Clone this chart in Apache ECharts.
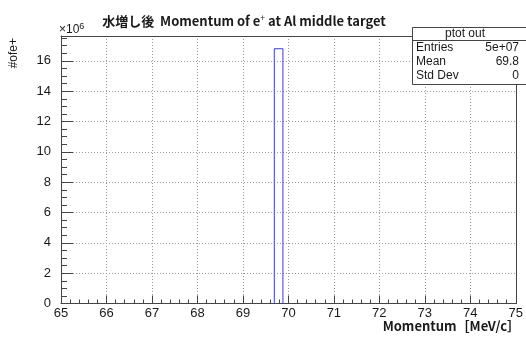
<!DOCTYPE html>
<html>
<head>
<meta charset="utf-8">
<script src="https://cdn.jsdelivr.net/npm/echarts@6/dist/echarts.min.js"></script>
<style>
  html, body { margin: 0; padding: 0; background: #fff; }
  #chart { width: 526px; height: 338px; }
</style>
</head>
<body>
<div id="chart"></div>
<script>
// Histogram "ptot out": one filled bin of positron momentum
const binLow = [69.69];          // MeV/c
const binHigh = [69.88];         // MeV/c
const binCounts = [16800000];    // entries per bin
const yScale = 1e6;              // axis shows counts in units of 10^6

const xRange = [65, 75];
const yRange = [0, 17.64];

const statsTitle = 'ptot out';
const statsNames = ['Entries', 'Mean', 'Std Dev'];
const statsValues = ['5e+07', '69.8', '0'];

// Outline of each bin as a step path
const outline = [];
for (let i = 0; i < binLow.length; i++) {
  const h = binCounts[i] / yScale;
  outline.push([binLow[i], 0], [binLow[i], h], [binHigh[i], h], [binHigh[i], 0]);
}

const FRAME = '#444';
const GRID = '#9a9a9a';
const TXT = '#1a1a1a';
const NUMFONT = 'Liberation Sans, Arial, sans-serif';
const JPFONT = 'Noto Sans CJK JP, sans-serif';

const chart = echarts.init(document.getElementById('chart'), null, { renderer: 'canvas' });

const statsGraphics = [];
statsGraphics.push({
  type: 'rect', z: 100,
  shape: { x: 412.5, y: 27.5, width: 120, height: 57 },
  style: { fill: '#fff', stroke: FRAME, lineWidth: 1 }
});
statsGraphics.push({
  type: 'line', z: 101,
  shape: { x1: 412.5, y1: 40.5, x2: 526, y2: 40.5 },
  style: { stroke: FRAME, lineWidth: 1 }
});
statsGraphics.push({
  type: 'text', z: 101, x: 465, y: 34,
  style: { text: statsTitle, font: '12px ' + NUMFONT, fill: TXT, align: 'center', verticalAlign: 'middle' }
});
statsNames.forEach((n, i) => {
  const y = 48 + i * 14;
  statsGraphics.push({
    type: 'text', z: 101, x: 416, y: y,
    style: { text: n, font: '12px ' + NUMFONT, fill: TXT, align: 'left', verticalAlign: 'middle' }
  });
  statsGraphics.push({
    type: 'text', z: 101, x: 519, y: y,
    style: { text: statsValues[i], font: '12px ' + NUMFONT, fill: TXT, align: 'right', verticalAlign: 'middle' }
  });
});

const option = {
  animation: false,
  backgroundColor: '#fff',
  grid: { left: 61, right: 5, top: 36, bottom: 34.5, containLabel: false },
  title: {
    left: 239, top: 9, textAlign: 'center',
    text: '水増し後  Momentum of e{sup|+} at Al middle target',
    textStyle: {
      fontFamily: JPFONT, fontWeight: 'bold', fontSize: 13, color: TXT,
      rich: {
        sup: { fontFamily: JPFONT, fontSize: 8.5, fontWeight: 'normal', verticalAlign: 'top', color: TXT, padding: [0, 0, 5, 0] }
      }
    }
  },
  graphic: [
    {
      type: 'text', x: 14, y: 38, rotation: Math.PI / 2,
      style: { text: '#ofe+', font: '12px ' + NUMFONT, fill: TXT, align: 'right', verticalAlign: 'middle' }
    },
    {
      type: 'text', x: 59, y: 30,
      style: {
        text: '×10{sup|6}', font: '12px ' + NUMFONT, fill: TXT, align: 'left', verticalAlign: 'middle',
        rich: { sup: { fontSize: 9, fontFamily: NUMFONT, verticalAlign: 'top', padding: [0, 0, 6, 0] } }
      }
    },
    {
      type: 'text', x: 520, y: 326,
      style: { text: 'Momentum［MeV/c］', font: 'bold 13px ' + JPFONT, fill: TXT, align: 'right', verticalAlign: 'middle' }
    }
  ].concat(statsGraphics),
  xAxis: [
    {
      type: 'value', min: xRange[0], max: xRange[1], interval: 1,
      axisLine: { show: true, onZero: false, lineStyle: { color: FRAME, width: 1 } },
      axisTick: { show: true, inside: true, length: 8, lineStyle: { color: FRAME } },
      minorTick: { show: true, splitNumber: 5, length: 4, lineStyle: { color: FRAME } },
      splitLine: { show: true, lineStyle: { color: GRID, type: [1, 2], width: 1 } },
      axisLabel: { color: TXT, fontFamily: NUMFONT, fontSize: 13, margin: 3 }
    },
    {
      type: 'value', position: 'top', min: xRange[0], max: xRange[1],
      axisLine: { show: true, onZero: false, lineStyle: { color: FRAME, width: 1 } },
      axisTick: { show: false }, axisLabel: { show: false }, splitLine: { show: false }
    }
  ],
  yAxis: [
    {
      type: 'value', min: yRange[0], max: yRange[1], interval: 2,
      axisLine: { show: true, onZero: false, lineStyle: { color: FRAME, width: 1 } },
      axisTick: { show: true, inside: true, length: 12, lineStyle: { color: FRAME } },
      splitLine: { show: true, lineStyle: { color: GRID, type: [1, 2], width: 1 } },
      axisLabel: { color: TXT, fontFamily: NUMFONT, fontSize: 13, margin: 10, showMaxLabel: false }
    },
    {
      type: 'value', position: 'left', min: yRange[0], max: yRange[1], interval: 0.5,
      axisLine: { show: false },
      axisTick: { show: true, inside: true, length: 6, lineStyle: { color: FRAME } },
      axisLabel: { show: false }, splitLine: { show: false }
    },
    {
      type: 'value', position: 'right', min: yRange[0], max: yRange[1],
      axisLine: { show: true, onZero: false, lineStyle: { color: FRAME, width: 1 } },
      axisTick: { show: false }, axisLabel: { show: false }, splitLine: { show: false }
    }
  ],
  series: [
    {
      type: 'line', xAxisIndex: 0, yAxisIndex: 0,
      data: outline, symbol: 'none', z: 5,
      lineStyle: { color: '#3c3cd0', width: 1 }
    }
  ]
};

chart.setOption(option);
</script>
</body>
</html>
